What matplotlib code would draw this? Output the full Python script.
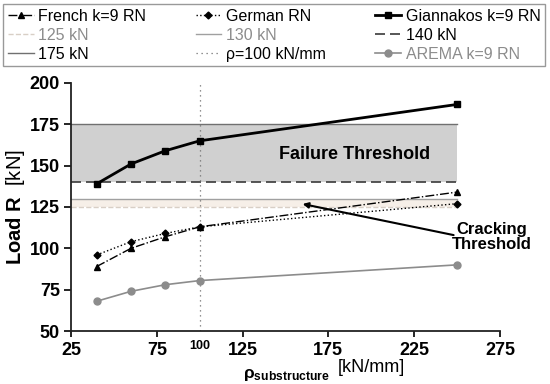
import numpy as np
import matplotlib
matplotlib.use("Agg")
import matplotlib.pyplot as plt

plt.rcParams['font.family'] = ['Liberation Sans', 'DejaVu Sans']
plt.rcParams['mathtext.fontset'] = 'custom'
plt.rcParams['mathtext.rm'] = 'Liberation Sans'
plt.rcParams['mathtext.bf'] = 'Liberation Sans:bold'
plt.rcParams['mathtext.it'] = 'Liberation Sans:italic'

# stiffness of substructure [kN/mm]
rho = [40, 60, 80, 100, 250]

# load R [kN]
french = [89, 100, 107, 113, 134]
german = [96, 104, 109, 113, 127]
giannakos = [139, 151, 159, 165, 187]
arema = [68, 74, 78, 80.5, 90]

# threshold lines [kN]
crack_lo, crack_hi = 125, 130
fail_lo, fail_hi = 140, 175
rho_ref = 100

xticks = [25, 75, 125, 175, 225, 275]
yticks = [50, 75, 100, 125, 150, 175, 200]

fig = plt.figure(figsize=(5.5, 3.84), dpi=100)
ax = fig.add_axes([0.129, 0.138, 0.780, 0.646])

x_band = [25, 250]
ax.fill_between(x_band, fail_lo, fail_hi, color='#d0d0d0', lw=0, zorder=0)
ax.fill_between(x_band, crack_lo, crack_hi, color='#f6efe8', lw=0, zorder=0)

h125, = ax.plot(x_band, [crack_lo] * 2, ls='--', color='#d8cfc6', lw=1)
h130, = ax.plot(x_band, [crack_hi] * 2, ls='-', color='#a0a0a0', lw=1)
h140, = ax.plot(x_band, [fail_lo] * 2, ls=(0, (6, 3)), color='#3a3a3a', lw=1.2)
h175, = ax.plot(x_band, [fail_hi] * 2, ls='-', color='#707070', lw=1)
hrho = ax.axvline(rho_ref, ls=(0, (1, 3)), color='#707070', lw=0.9)

hfr, = ax.plot(rho, french, ls='-.', marker='^', color='black', lw=1, ms=5)
hge, = ax.plot(rho, german, ls=':', marker='D', color='black', lw=1, ms=3.5)
hgi, = ax.plot(rho, giannakos, ls='-', marker='s', color='black', lw=2, ms=5)
har, = ax.plot(rho, arema, ls='-', marker='o', color='#8c8c8c', lw=1.2, ms=5)

ax.set_xlim(25, 275)
ax.set_ylim(50, 200)
ax.set_xticks(xticks)
ax.set_yticks(yticks)
for lab in ax.get_xticklabels() + ax.get_yticklabels():
    lab.set_fontweight('bold')
    lab.set_fontsize(13)
ax.tick_params(axis='x', direction='out', length=4, width=1.2, pad=4)
ax.tick_params(axis='y', direction='out', length=5, width=1.2, pad=3)
ax.spines['top'].set_visible(False)
ax.spines['right'].set_visible(False)
for s in ['left', 'bottom']:
    ax.spines[s].set_linewidth(1.3)
    ax.spines[s].set_color('#222222')

ax.text(rho_ref, -0.035, '100', transform=ax.get_xaxis_transform(),
        ha='center', va='top', fontsize=9, fontweight='bold')

ax.set_ylabel(r'$\mathbf{Load\ R}$  [kN]', fontsize=14.5, labelpad=2)
fig.text(243 / 550, 1 - 383 / 384, r'$\mathbf{\rho_{substructure}}$',
         fontsize=12.5, ha='left', va='bottom')
fig.text(338 / 550, 1 - 376 / 384, '[kN/mm]', fontsize=13,
         ha='left', va='bottom')

ax.text(190, 156.5, 'Failure Threshold', ha='center', va='center',
        fontsize=13, fontweight='bold')
ax.text(270, 107, 'Cracking\nThreshold', ha='center', va='center',
        fontsize=12, fontweight='bold', linespacing=1.0)
ax.annotate('', xy=(160, 126.8), xytext=(248, 108),
            arrowprops=dict(arrowstyle='-|>', color='black', lw=1.5,
                            mutation_scale=8, shrinkA=0, shrinkB=0))

handles = [hfr, h125, h175, hge, h130, hrho, hgi, h140, har]
labels = ['French k=9 RN', '125 kN', '175 kN', 'German RN', '130 kN',
          'ρ=100 kN/mm', 'Giannakos k=9 RN', '140 kN', 'AREMA k=9 RN']
leg = fig.legend(handles, labels, ncol=3, loc='upper left',
                 bbox_to_anchor=(0.006, 0.825, 0.985, 0.165), mode='expand',
                 fontsize=11.5, frameon=True, fancybox=False,
                 edgecolor='#808080', handlelength=1.6, handletextpad=0.3,
                 borderpad=0.3, labelspacing=0.25, columnspacing=1.0,
                 borderaxespad=0)
leg.get_frame().set_linewidth(1)
for t, lab in zip(leg.get_texts(), labels):
    if lab in ('125 kN', '130 kN', 'AREMA k=9 RN'):
        t.set_color('#8c8c8c')

fig.savefig('out.png', dpi=100)
